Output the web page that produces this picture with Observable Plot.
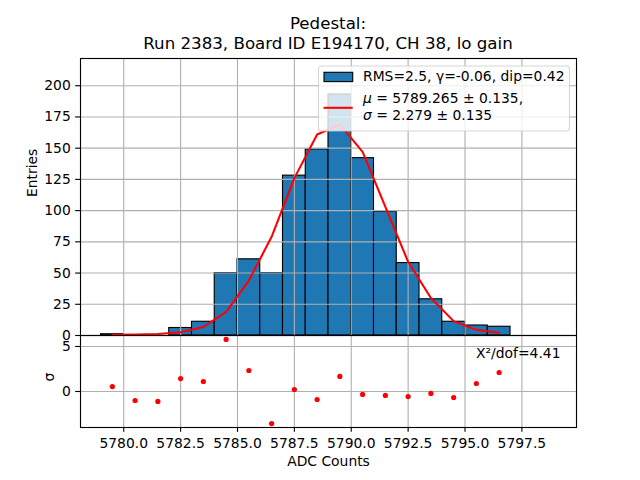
<!DOCTYPE html>
<html>
<head>
<meta charset="utf-8">
<script src="https://cdn.jsdelivr.net/npm/d3@7"></script>
<script src="https://cdn.jsdelivr.net/npm/@observablehq/plot@0.6"></script>
<style>
  html, body { margin: 0; padding: 0; background: white; }
  #wrap { position: relative; width: 640px; height: 480px; font-family: "DejaVu Sans", sans-serif; }
  #wrap > svg, #wrap > figure { position: absolute; left: 0; margin: 0; }
  #overlay { position: absolute; left: 0; top: 0; pointer-events: none; }
</style>
</head>
<body>
<div id="wrap"></div>
<script>
// ---- data ----
const binLow   = [5779, 5780, 5781, 5782, 5783, 5784, 5785, 5786, 5787, 5788, 5789, 5790, 5791, 5792, 5793, 5794, 5795, 5796];
const counts   = [1, 0, 0, 6, 11, 50, 61, 50, 128, 149, 193, 142, 99, 58, 29, 11, 8, 7];
const binCenter = [5779.5, 5780.5, 5781.5, 5782.5, 5783.5, 5784.5, 5785.5, 5786.5, 5787.5, 5788.5, 5789.5, 5790.5, 5791.5, 5792.5, 5793.5, 5794.5, 5795.5, 5796.5];
const fitValues = [0.6, 0.8, 1.2, 2.6, 6.8, 19, 44, 79, 126, 161, 169, 147, 103, 59, 30, 11.5, 4.5, 2.2];
const residuals = [0.55, -1.0, -1.1, 1.44, 1.11, 5.78, 2.33, -3.56, 0.22, -0.89, 1.67, -0.33, -0.44, -0.56, -0.22, -0.67, 0.89, 2.11];
const xTicks = [5780.0, 5782.5, 5785.0, 5787.5, 5790.0, 5792.5, 5795.0, 5797.5];
const yTicksTop = [0, 25, 50, 75, 100, 125, 150, 175, 200];
const yTicksBottom = [0, 5];
const titleLines = ["Pedestal:", "Run 2383, Board ID E194170, CH 38, lo gain"];
const legendHist = "RMS=2.5, γ=-0.06, dip=0.42";
const legendMu = " = 5789.265 ± 0.135,";
const legendSigma = " = 2.279 ± 0.135";
const chiText = "X²/dof=4.41";

const bins = binLow.map((lo, i) => ({lo, hi: lo + 1, count: counts[i]}));
const fit = binCenter.map((x, i) => ({x, y: fitValues[i]}));
const res = binCenter.map((x, i) => ({x, r: residuals[i]}));

const xDomain = [5778.1, 5799.9];
const gridColor = "#b0b0b0";
const lw = 1.11;
const fontPx = 13.89;
const baseStyle = {fontSize: fontPx + "px", fontFamily: "DejaVu Sans", color: "black", background: "transparent", overflow: "visible"};

const topPlot = Plot.plot({
  width: 640, height: 336,
  marginLeft: 80, marginRight: 64, marginTop: 58, marginBottom: 1,
  style: baseStyle,
  x: {domain: xDomain, axis: null},
  y: {domain: [0, 221.8], axis: null},
  marks: [
    Plot.rectY(bins, {x1: "lo", x2: "hi", y: "count", fill: "#1f77b4", stroke: "black", strokeWidth: lw}),
    Plot.ruleX(xTicks, {stroke: gridColor, strokeWidth: lw}),
    Plot.ruleY(yTicksTop, {stroke: gridColor, strokeWidth: lw}),
    Plot.line(fit, {x: "x", y: "y", stroke: "red", strokeWidth: 2.08}),
    Plot.axisY(yTicksTop, {tickSize: 4.86, tickPadding: 4.86, strokeWidth: lw, label: null}),
    Plot.text(["Entries"], {frameAnchor: "left", dx: -48, rotate: -90, fontSize: fontPx}),
    Plot.frame({stroke: "black", strokeWidth: lw})
  ]
});
topPlot.style.top = "0px";

const bottomPlot = Plot.plot({
  width: 640, height: 146,
  marginLeft: 80, marginRight: 64, marginTop: 1, marginBottom: 53,
  style: baseStyle,
  x: {domain: xDomain, axis: null},
  y: {domain: [-4.0, 6.22], axis: null},
  marks: [
    Plot.ruleX(xTicks, {stroke: gridColor, strokeWidth: lw}),
    Plot.ruleY(yTicksBottom, {stroke: gridColor, strokeWidth: lw}),
    Plot.dot(res, {x: "x", y: "r", fill: "red", r: 2.6}),
    Plot.axisY(yTicksBottom, {tickSize: 4.86, tickPadding: 4.86, strokeWidth: lw, label: null}),
    Plot.axisX(xTicks, {tickSize: 4.86, tickPadding: 6, strokeWidth: lw, label: null, tickFormat: d3.format(".1f")}),
    Plot.text(["ADC Counts"], {frameAnchor: "bottom", dy: 38, fontSize: fontPx}),
    Plot.text(["σ"], {frameAnchor: "left", dx: -31, rotate: -90, fontSize: fontPx}),
    Plot.text([chiText], {frameAnchor: "top-right", dx: -16, dy: 13, textAnchor: "end", fontSize: fontPx}),
    Plot.frame({stroke: "black", strokeWidth: lw})
  ]
});
bottomPlot.style.top = "334px";

const wrap = document.getElementById("wrap");
wrap.appendChild(topPlot);
wrap.appendChild(bottomPlot);

// ---- title + legend overlay ----
const NS = "http://www.w3.org/2000/svg";
const ov = document.createElementNS(NS, "svg");
ov.setAttribute("id", "overlay");
ov.setAttribute("width", 640);
ov.setAttribute("height", 480);
ov.setAttribute("font-family", "DejaVu Sans");
function el(name, attrs, parent) {
  const e = document.createElementNS(NS, name);
  for (const k in attrs) e.setAttribute(k, attrs[k]);
  (parent || ov).appendChild(e);
  return e;
}
const t1 = el("text", {x: 328, y: 28.7, "text-anchor": "middle", "font-size": 16.67});
t1.textContent = titleLines[0];
const t2 = el("text", {x: 328, y: 49.3, "text-anchor": "middle", "font-size": 16.67});
t2.textContent = titleLines[1];

const lg = el("g", {transform: "translate(318,65.5)"});
el("rect", {x: 0.5, y: 0.5, width: 251, height: 65, rx: 3, fill: "white", "fill-opacity": 0.8, stroke: "#cccccc", "stroke-opacity": 0.8, "stroke-width": lw}, lg);
el("rect", {x: 6, y: 6.8, width: 28.7, height: 9.3, fill: "#1f77b4", stroke: "black", "stroke-width": lw}, lg);
const lt1 = el("text", {x: 45, y: 15.4, "font-size": fontPx}, lg);
lt1.textContent = legendHist;
el("line", {x1: 5.5, x2: 34.7, y1: 42.3, y2: 42.3, stroke: "red", "stroke-width": 2.08}, lg);
const lt2 = el("text", {x: 45, y: 37.3, "font-size": fontPx}, lg);
const mu = el("tspan", {"font-style": "italic"}, lt2); mu.textContent = "μ";
const mu2 = el("tspan", {}, lt2); mu2.textContent = legendMu;
const lt3 = el("text", {x: 45, y: 54.6, "font-size": fontPx}, lg);
const sg = el("tspan", {"font-style": "italic"}, lt3); sg.textContent = "σ";
const sg2 = el("tspan", {}, lt3); sg2.textContent = legendSigma;
wrap.appendChild(ov);
</script>
</body>
</html>
